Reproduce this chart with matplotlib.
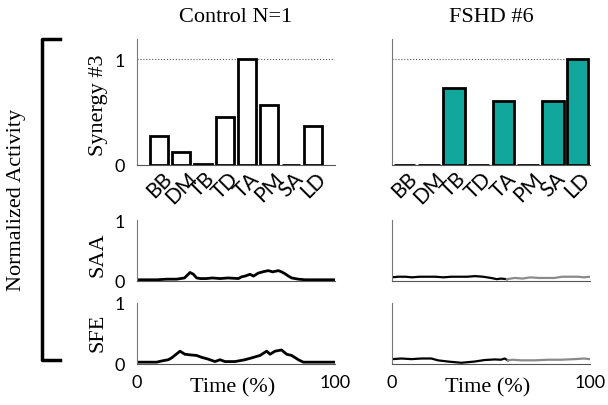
import matplotlib
matplotlib.use("Agg")
import matplotlib.pyplot as plt
from matplotlib.lines import Line2D

# synergy #3 weights per muscle
muscles = ["BB", "DM", "TB", "TD", "TA", "PM", "SA", "LD"]
control_weights = [0.27, 0.12, 0.01, 0.455, 1.0, 0.57, 0.004, 0.365]
fshd_weights = [0.0, 0.0, 0.73, 0.0, 0.60, 0.0, 0.60, 1.0]

# activation over the movement (time in %)
ctrl_saa_t = [0, 5, 10, 15, 20, 24, 26.8, 28.5, 30.1, 32, 35, 38, 42, 46, 51.2, 53, 54.5, 57.1,
              58.8, 61.3, 63.5, 66.3, 68.5, 71.4, 73, 74.7, 76.5, 78.1, 81.5, 85, 90, 95, 100]
ctrl_saa_v = [0.02, 0.02, 0.02, 0.03, 0.03, 0.05, 0.14, 0.11, 0.05, 0.04, 0.04, 0.05, 0.04, 0.05,
              0.04, 0.07, 0.08, 0.11, 0.08, 0.13, 0.15, 0.17, 0.15, 0.17, 0.15, 0.12, 0.08, 0.05,
              0.03, 0.02, 0.02, 0.02, 0.02]

ctrl_sfe_t = [0, 5, 10, 12.5, 15.8, 17.5, 21.7, 24.2, 26.7, 30.1, 32.6, 35.9, 39.4, 41.9, 44.4,
              49.5, 54.5, 57.9, 62.1, 65.5, 67.2, 69.7, 73.0, 75.6, 78.1, 81.5, 84.0, 90, 95, 100]
ctrl_sfe_v = [0.03, 0.03, 0.03, 0.05, 0.07, 0.10, 0.21, 0.16, 0.15, 0.14, 0.11, 0.08, 0.04, 0.07,
              0.04, 0.04, 0.07, 0.10, 0.14, 0.21, 0.16, 0.21, 0.23, 0.16, 0.14, 0.07, 0.03, 0.03,
              0.03, 0.03]

fshd_saa_t = [0, 3, 7, 10, 14, 18, 22, 26, 30, 34, 38, 42, 46, 50, 53, 55, 58]
fshd_saa_v = [0.06, 0.07, 0.07, 0.06, 0.07, 0.07, 0.07, 0.06, 0.07, 0.07, 0.07, 0.08, 0.07,
              0.05, 0.03, 0.04, 0.03]
fshd_saa_t2 = [58, 62, 66, 70, 74, 78, 82, 86, 90, 94, 97, 100]
fshd_saa_v2 = [0.03, 0.05, 0.04, 0.06, 0.05, 0.05, 0.05, 0.07, 0.07, 0.07, 0.06, 0.07]

fshd_sfe_t = [0, 4.7, 9.8, 14.8, 19.9, 23.2, 28.3, 35, 41.7, 46.8, 51.9, 55, 56.9, 58.5]
fshd_sfe_v = [0.08, 0.09, 0.08, 0.09, 0.09, 0.06, 0.04, 0.02, 0.04, 0.065, 0.075, 0.07, 0.09, 0.06]
fshd_sfe_t2 = [58.5, 61, 65.3, 72, 78.8, 85.5, 92.2, 97, 100]
fshd_sfe_v2 = [0.06, 0.07, 0.06, 0.06, 0.07, 0.07, 0.08, 0.09, 0.08]

TEAL = "#12a79d"
SERIF = "Liberation Serif"
SANS = "Lato"
W, H = 608, 406


def fx(px):
    return px / W


def fy(px):
    return 1 - px / H


def style_axis(ax):
    for s in ["top", "right"]:
        ax.spines[s].set_visible(False)
    ax.spines["left"].set_color("#777777")
    ax.spines["bottom"].set_color("#555555")
    ax.spines["left"].set_linewidth(0.8)
    ax.spines["bottom"].set_linewidth(0.8)
    ax.tick_params(length=0)
    for lab in ax.get_xticklabels() + ax.get_yticklabels():
        lab.set_fontfamily(SANS)


def bar_axis(left_px, weights, color, xlim, show_y):
    ax = fig.add_axes([fx(left_px), fy(166), fx(198), 126 / H])
    xs = list(range(1, len(muscles) + 1))
    ax.axhline(1, ls=":", color="#555555", lw=0.8, zorder=0)
    ax.bar(xs, weights, width=0.86, color=color, edgecolor="black", linewidth=2, zorder=2)
    ax.set_xlim(*xlim)
    ax.set_ylim(0, 1.19)
    ax.set_xticks(xs)
    ax.set_xticklabels(muscles, rotation=45, fontsize=15)
    ax.tick_params(axis="x", pad=2)
    if show_y:
        ax.set_yticks([0, 1])
        ax.set_yticklabels(["0", "1"], fontsize=13)
        ax.tick_params(axis="y", pad=9)
    else:
        ax.set_yticks([])
    style_axis(ax)
    return ax


def line_axis(left_px, bottom_px, show_y, show_x):
    ax = fig.add_axes([fx(left_px), fy(bottom_px), fx(198), 61 / H])
    ax.set_xlim(0, 100)
    ax.set_ylim(0, 1)
    if show_y:
        ax.set_yticks([0, 1])
        ax.set_yticklabels(["0", "1"], fontsize=13)
        ax.tick_params(axis="y", pad=9)
    else:
        ax.set_yticks([])
    if show_x:
        ax.set_xticks([0, 100])
        ax.set_xticklabels(["0", "100"], fontsize=13)
        ax.tick_params(axis="x", pad=7)
    else:
        ax.set_xticks([])
    style_axis(ax)
    return ax


fig = plt.figure(figsize=(6.08, 4.06), dpi=100)

bar_axis(137, control_weights, "white", (0, 9), True)
bar_axis(392, fshd_weights, TEAL, (0.5, 8.5), False)

ax = line_axis(137, 282, True, False)
ax.plot(ctrl_saa_t, ctrl_saa_v, color="black", lw=2)
ax = line_axis(137, 365, True, True)
ax.plot(ctrl_sfe_t, ctrl_sfe_v, color="black", lw=2)

ax = line_axis(392, 282, False, False)
ax.plot(fshd_saa_t, fshd_saa_v, color="black", lw=1.6)
ax.plot(fshd_saa_t2, fshd_saa_v2, color="#8a8a8a", lw=1.6)
ax = line_axis(392, 365, False, True)
ax.plot(fshd_sfe_t, fshd_sfe_v, color="black", lw=1.6)
ax.plot(fshd_sfe_t2, fshd_sfe_v2, color="#8a8a8a", lw=1.6)

# titles and labels
fig.text(fx(236), fy(18), "Control N=1", family=SERIF, fontsize=16, ha="center", va="center")
fig.text(fx(491), fy(18), "FSHD #6", family=SERIF, fontsize=16, ha="center", va="center")
fig.text(fx(98), fy(105), "Synergy #3", family=SERIF, fontsize=16, rotation=90, ha="center", va="center")
fig.text(fx(98), fy(255), "SAA", family=SERIF, fontsize=16, rotation=90, ha="center", va="center")
fig.text(fx(98), fy(333), "SFE", family=SERIF, fontsize=16, rotation=90, ha="center", va="center")
fig.text(fx(233), fy(388), "Time (%)", family=SERIF, fontsize=16, ha="center", va="center")
fig.text(fx(488), fy(388), "Time (%)", family=SERIF, fontsize=16, ha="center", va="center")
fig.text(fx(17), fy(200), "Normalized Activity", family=SERIF, fontsize=16, rotation=90,
         ha="center", va="center")

# bracket on the left
bx = [fx(60), fx(42), fx(42), fx(60)]
by = [fy(40), fy(40), fy(361), fy(361)]
fig.add_artist(Line2D(bx, by, color="black", lw=2.5, transform=fig.transFigure))

fig.savefig("out.png", dpi=100)
